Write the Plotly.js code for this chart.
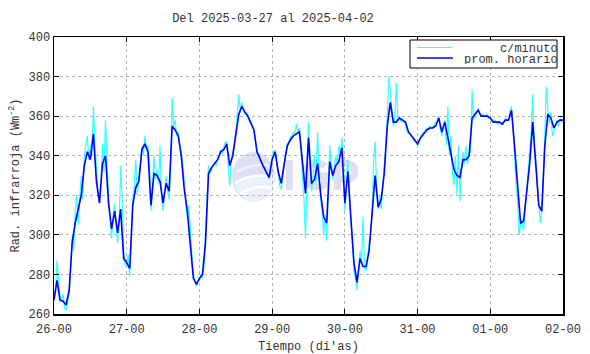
<!DOCTYPE html>
<html>
<head>
<meta charset="utf-8">
<script src="https://cdn.plot.ly/plotly-3.0.1.min.js"></script>
<style>html,body{margin:0;padding:0;background:#fff;}#chart{width:590px;height:354px;}</style>
</head>
<body>
<div id="chart"></div>
<script>
// ---- data ----
const startDate = '2025-03-26T00:00:00Z';
const titleText = 'Del 2025-03-27 al 2025-04-02';
const legendNames = ['c/minuto', 'prom. horario'];
const yTickVals = [260, 280, 300, 320, 340, 360, 380, 400];

// hourly average (one value per hour, from 26-00 to 02-00)
const promHorario = [
267,277,267,266.5,264.5,272,296,306,313,320,335,342,338,351,327,316,336,340,316,303,312,301,313,288,
286,283,315,324,327,343,346,342,315,331,330,327,316,326,322,355,353,350,340,323,312,296,278,275,
278,280,296,331,334,336,338,342,343,346,335,340,350,361,365,362,360,356,353,342,338,335,332,329,
338,342,332,326,336,345,348,350,351,352,337,321,349,326,328,336,321,309,306,337,330,335,337,344,
316,332,308,286,276,288,284,284,292,310,330,314,318,331,355,367,357,357,359,358,357,352,350,348,
346,349,351,353,354,354,355,359,352,357,349,341,333,330,329,338,338,340,359,361,363,360,360,360,
359,357,357,357,356,358,358,363,345,323,306,307,320,336,357,337,315,312,345,361,359,354,357,358,
358];

// per-minute series, read every half hour
const cMinuto = [
268,272, 287,275, 268,266, 270,263, 262,266, 270,283, 300,292, 312,320, 305,318, 330,318, 340,345, 350,338,
345,340, 365,345, 330,322, 318,325, 346,332, 358,338, 318,310, 298,308, 316,305, 296,305, 335,318, 292,285,
284,290, 279,298, 318,325, 338,320, 330,335, 345,340, 350,344, 345,338, 312,322, 340,328, 333,326, 345,318,
312,322, 330,322, 318,335, 369,355, 358,350, 352,346, 342,336, 326,318, 308,315, 300,290, 280,277, 274,276,
277,280, 278,284, 300,318, 335,331, 333,336, 337,335, 339,340, 343,341, 344,347, 347,338, 325,338, 342,346,
352,360, 371,362, 367,363, 361,362, 359,357, 356,354, 353,348, 341,340, 338,336, 334,334, 331,330, 328,334,
340,342, 343,336, 330,325, 323,330, 337,342, 346,347, 349,350, 352,351, 356,352, 354,345, 330,318, 298,335,
357,340, 322,330, 340,326, 352,332, 318,312, 300,310, 297,320, 345,336, 328,334, 340,336, 345,340, 349,338,
312,325, 338,320, 305,294, 282,278, 272,282, 292,286, 309,283, 282,287, 296,300, 312,338, 347,322, 313,320,
313,325, 335,345, 360,380, 372,362, 355,359, 377,358, 360,357, 359,357, 356,353, 351,351, 350,349, 347,347,
345,348, 350,351, 352,352, 354,353, 355,354, 354,356, 357,357, 360,354, 350,355, 358,345, 365,340, 350,332,
325,340, 320,345, 317,333, 342,336, 345,336, 341,342, 373,358, 362,362, 364,361, 360,361, 360,360, 361,359,
359,358, 357,358, 357,356, 357,356, 356,358, 359,358, 358,362, 365,356, 340,325, 318,300, 305,308, 302,312,
318,328, 340,352, 371,345, 338,325, 315,306, 312,330, 352,375, 363,356, 362,350, 352,355, 358,355, 359,357,
358];

// ---- build ----
const t0 = Date.parse(startDate);
function ts(hours) {
  return new Date(t0 + hours * 3600000).toISOString().slice(0, 19).replace('T', ' ');
}
const xHour = promHorario.map((_, i) => ts(i));
const xMin = cMinuto.map((_, i) => ts(i * 0.5));

const FONT = 'Liberation Mono, Courier New, monospace';
const TXT = '#333';
const CYAN = '#33ffff';
const BLUE = '#0000ff';

const traces = [
  {x: xMin, y: cMinuto, type: 'scatter', mode: 'lines', name: legendNames[0],
   line: {color: CYAN, width: 1.2}, showlegend: false, hoverinfo: 'skip'},
  {x: xHour, y: promHorario, type: 'scatter', mode: 'lines', name: legendNames[1],
   line: {color: BLUE, width: 1.6}, showlegend: false}
];

// plot area in px: left 54, right 563, top 37, bottom 314
const L = 54, R = 563, T = 37, B = 314;
const fx = px => (px - L) / (R - L);
const fy = py => (B - py) / (B - T);

const LAV = '#dfdff4';
const logoSvg =
  '<svg xmlns="http://www.w3.org/2000/svg" width="135" height="54" viewBox="0 0 135 54">' +
  '<ellipse cx="22.5" cy="27" rx="21.5" ry="25" fill="' + LAV + '"/>' +
  '<path d="M3 34 Q20 22 44 26 L43 34 Q38 50 22 52 Q8 50 3 34 Z" fill="#e8f1fc"/>' +
  '<path d="M6 22 Q22 12 42 16" stroke="#f2f2fb" stroke-width="2.5" fill="none"/>' +
  '<path d="M4 33 Q22 22 43 27" stroke="#ffffff" stroke-width="2.5" fill="none"/>' +
  '<path d="M9 44 Q24 34 40 38" stroke="#ffffff" stroke-width="2.5" fill="none"/>' +
  '<rect x="55" y="10" width="7" height="30" fill="' + LAV + '"/>' +
  '<path d="M94 16 A12 12 0 1 0 94 34 L94 26 L84 26" stroke="' + LAV + '" stroke-width="7" fill="none"/>' +
  '<rect x="103" y="10" width="7" height="30" fill="' + LAV + '"/>' +
  '<path d="M106 13.5 H116 A8 8 0 0 1 116 29.5 H106" stroke="' + LAV + '" stroke-width="7" fill="none"/>' +
  '</svg>';

const layout = {
  width: 590, height: 354,
  margin: {l: L, r: 590 - R, t: T, b: 354 - B},
  paper_bgcolor: '#fff', plot_bgcolor: '#fff',
  font: {family: FONT, size: 12, color: TXT},
  title: {text: titleText, font: {family: FONT, size: 12, color: TXT},
          xref: 'paper', x: fx(273), xanchor: 'center', yref: 'container', y: 1 - 18 / 354, yanchor: 'middle'},
  xaxis: {
    type: 'date', range: [ts(0), ts(168)],
    tick0: ts(0), dtick: 86400000, tickformat: '%d-%H',
    ticks: 'inside', ticklen: 5, tickcolor: '#000', tickwidth: 1,
    showline: true, linecolor: '#000', linewidth: 1.5, mirror: 'ticks',
    showgrid: true, gridcolor: '#b4b4b4', griddash: 'dot', gridwidth: 1,
    zeroline: false, ticklabelstandoff: 3,
    tickfont: {family: FONT, size: 12, color: TXT},
    title: {text: "Tiempo (di'as)", font: {family: FONT, size: 12, color: TXT}, standoff: 6}
  },
  yaxis: {
    range: [260, 400], tickvals: yTickVals,
    ticks: 'inside', ticklen: 5, tickcolor: '#000', tickwidth: 1,
    showline: true, linecolor: '#000', linewidth: 1.5, mirror: 'ticks',
    showgrid: true, gridcolor: '#b4b4b4', griddash: 'dot', gridwidth: 1,
    zeroline: false,
    tickfont: {family: FONT, size: 12, color: TXT},
    title: {text: 'Rad. infrarroja (Wm<sup>-2</sup>)', font: {family: FONT, size: 12, color: TXT}, standoff: 6}
  },
  images: [{
    source: 'data:image/svg+xml;charset=utf-8,' + encodeURIComponent(logoSvg),
    xref: 'paper', yref: 'paper', x: fx(231), y: fy(150), sizex: fx(366) - fx(231), sizey: fy(150) - fy(204),
    xanchor: 'left', yanchor: 'top', sizing: 'stretch', layer: 'below', opacity: 1
  }],
  shapes: [
    {type: 'rect', xref: 'paper', yref: 'paper', x0: fx(410), x1: fx(557), y0: fy(68), y1: fy(40),
     line: {color: '#000', width: 1}, fillcolor: '#fff', layer: 'above'},
    {type: 'line', xref: 'paper', yref: 'paper', x0: fx(417), x1: fx(452), y0: fy(47.5), y1: fy(47.5),
     line: {color: CYAN, width: 1}},
    {type: 'line', xref: 'paper', yref: 'paper', x0: fx(417), x1: fx(453), y0: fy(58), y1: fy(58),
     line: {color: BLUE, width: 1.6}}
  ],
  annotations: [
    {xref: 'paper', yref: 'paper', x: fx(559), y: fy(48.5), xanchor: 'right', yanchor: 'middle',
     height: 9, valign: 'middle', borderpad: 0,
     text: legendNames[0], showarrow: false, font: {family: FONT, size: 12, color: TXT}},
    {xref: 'paper', yref: 'paper', x: fx(559), y: fy(59.5), xanchor: 'right', yanchor: 'middle',
     height: 9, valign: 'middle', borderpad: 0,
     text: legendNames[1], showarrow: false, font: {family: FONT, size: 12, color: TXT}}
  ],
  showlegend: false
};

Plotly.newPlot('chart', traces, layout, {displayModeBar: false, staticPlot: true});
</script>
</body>
</html>
